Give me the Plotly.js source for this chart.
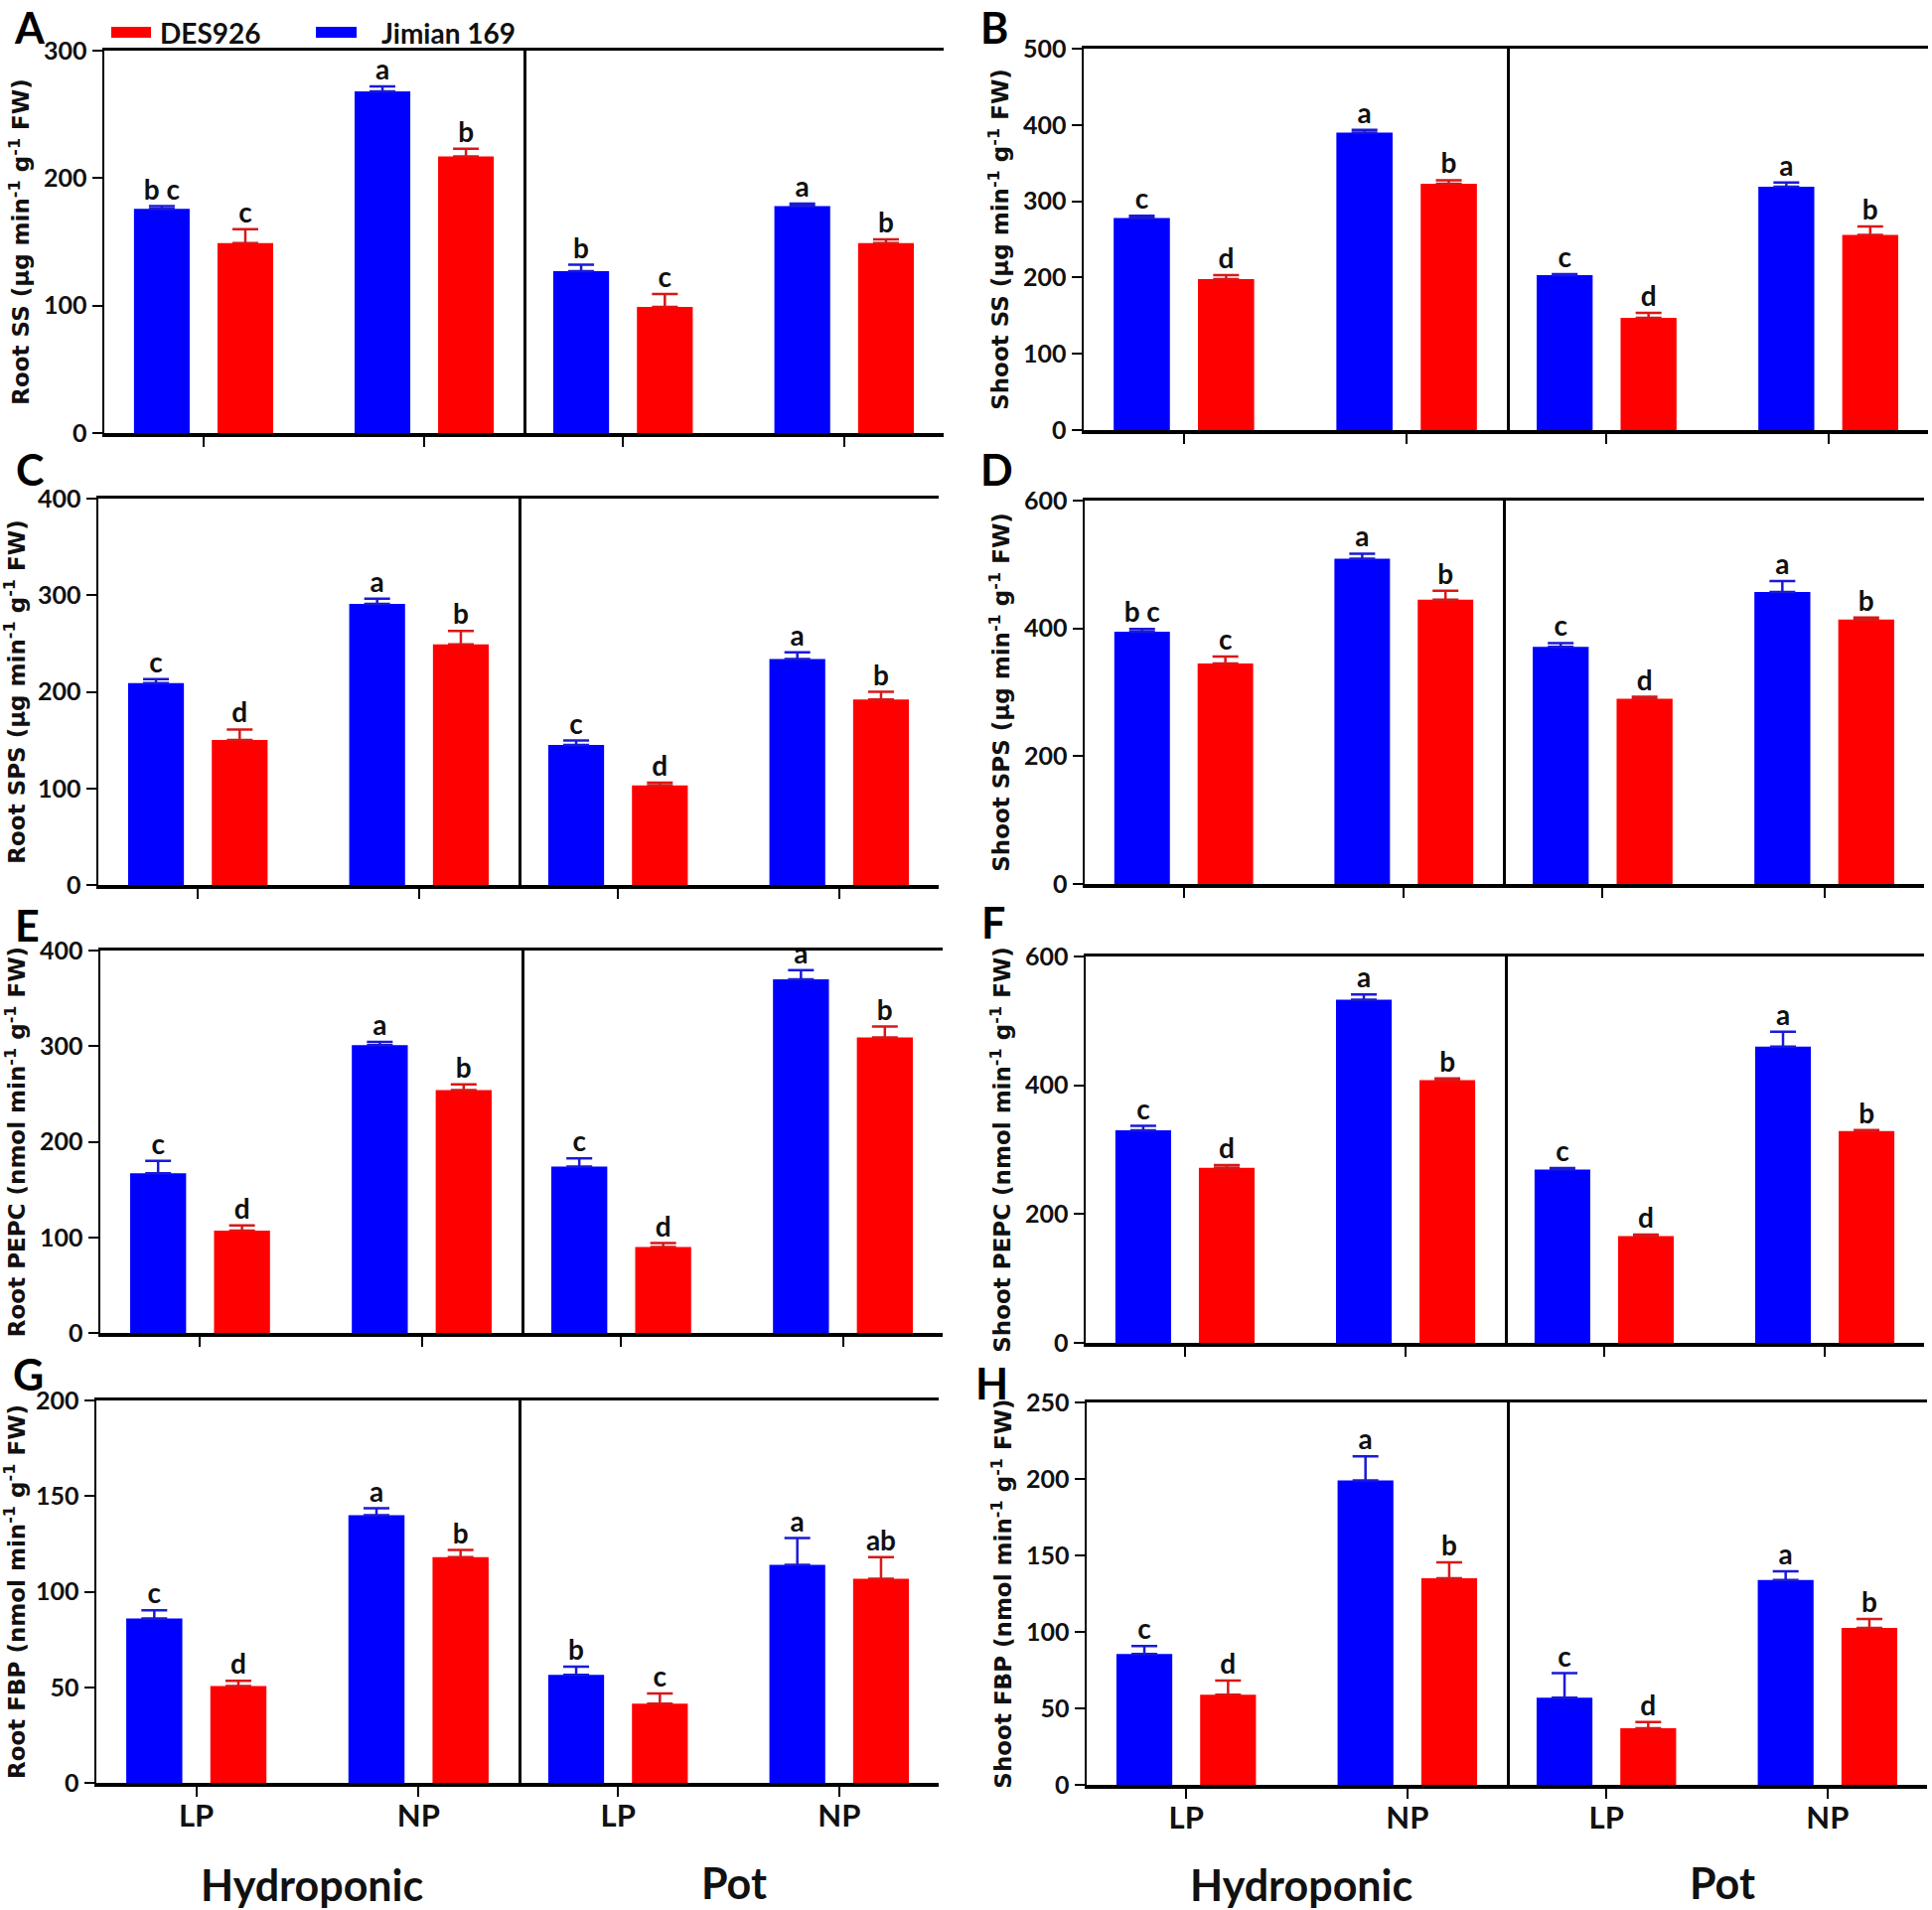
<!DOCTYPE html>
<html>
<head>
<meta charset="utf-8">
<script src="https://cdn.plot.ly/plotly-3.0.1.min.js"></script>
<style>
html, body { margin: 0; padding: 0; background: #ffffff; }
#chart { width: 1945px; height: 1923px; }
</style>
</head>
<body>
<div id="chart"></div>
<script>
// ---------------- DATA ----------------
// x categories (P level) and growth systems
const levels = ['LP', 'NP'];
const systems = ['Hydroponic', 'Pot'];
// cultivars: [first bar in each group, second bar]
const cultivars = ['Jimian 169', 'DES926'];

// every array below is ordered: Hydroponic LP, Hydroponic NP, Pot LP, Pot NP
// A  Root SS
const rootSS_jimian      = [176, 268, 127, 178];
const rootSS_jimian_err  = [2, 4, 5, 2];
const rootSS_jimian_sig  = ['b c', 'a', 'b', 'a'];
const rootSS_des         = [149, 217, 99, 149];
const rootSS_des_err     = [11, 6, 10, 3];
const rootSS_des_sig     = ['c', 'b', 'c', 'b'];
// B  Shoot SS
const shootSS_jimian     = [278, 390, 203, 319];
const shootSS_jimian_err = [3, 3.5, 1.5, 5.5];
const shootSS_jimian_sig = ['c', 'a', 'c', 'a'];
const shootSS_des        = [198, 323, 147, 256];
const shootSS_des_err    = [5, 4.5, 6.5, 11];
const shootSS_des_sig    = ['d', 'b', 'd', 'b'];
// C  Root SPS
const rootSPS_jimian     = [209, 291, 145, 234];
const rootSPS_jimian_err = [4, 5.5, 4.5, 7];
const rootSPS_jimian_sig = ['c', 'a', 'c', 'a'];
const rootSPS_des        = [150, 249, 103, 192];
const rootSPS_des_err    = [11, 14, 3, 8];
const rootSPS_des_sig    = ['d', 'b', 'd', 'b'];
// D  Shoot SPS
const shootSPS_jimian     = [395, 509, 371, 457];
const shootSPS_jimian_err = [4, 8, 6, 17];
const shootSPS_jimian_sig = ['b c', 'a', 'c', 'a'];
const shootSPS_des        = [345, 445, 290, 414];
const shootSPS_des_err    = [11, 14, 3, 3];
const shootSPS_des_sig    = ['c', 'b', 'd', 'b'];
// E  Root PEPC
const rootPEPC_jimian     = [167, 301, 174, 370];
const rootPEPC_jimian_err = [13, 3.5, 8.5, 9.5];
const rootPEPC_jimian_sig = ['c', 'a', 'c', 'a'];
const rootPEPC_des        = [107, 254, 90, 309];
const rootPEPC_des_err    = [5.5, 6, 4, 11.5];
const rootPEPC_des_sig    = ['d', 'b', 'd', 'b'];
// F  Shoot PEPC
const shootPEPC_jimian     = [330, 533, 269, 460];
const shootPEPC_jimian_err = [7, 8, 2.5, 23];
const shootPEPC_jimian_sig = ['c', 'a', 'c', 'a'];
const shootPEPC_des        = [272, 408, 166, 329];
const shootPEPC_des_err    = [4, 2.5, 2, 1.5];
const shootPEPC_des_sig    = ['d', 'b', 'd', 'b'];
// G  Root FBP
const rootFBP_jimian     = [86, 140, 56.5, 114];
const rootFBP_jimian_err = [4.3, 3.6, 4.3, 14];
const rootFBP_jimian_sig = ['c', 'a', 'b', 'a'];
const rootFBP_des        = [50.7, 118, 41.4, 106.7];
const rootFBP_des_err    = [2.7, 3.8, 5.4, 11.3];
const rootFBP_des_sig    = ['d', 'b', 'c', 'ab'];
// H  Shoot FBP
const shootFBP_jimian     = [85.5, 199, 57, 134];
const shootFBP_jimian_err = [5.2, 15.7, 16, 5.6];
const shootFBP_jimian_sig = ['c', 'a', 'c', 'a'];
const shootFBP_des        = [59, 135, 37, 102.6];
const shootFBP_des_err    = [9.2, 10.4, 4.1, 5.9];
const shootFBP_des_sig    = ['d', 'b', 'd', 'b'];

// axis titles and y-axis scales
const UG = ' (µg min<sup>-1</sup> g<sup>-1</sup> FW)';
const NM = ' (nmol min<sup>-1</sup> g<sup>-1</sup> FW)';
const panelLetters = ['A', 'B', 'C', 'D', 'E', 'F', 'G', 'H'];
const yTitles = ['Root SS' + UG, 'Shoot SS' + UG, 'Root SPS' + UG, 'Shoot SPS' + UG,
                 'Root PEPC' + NM, 'Shoot PEPC' + NM, 'Root FBP' + NM, 'Shoot FBP' + NM];
const yMax  = [300, 500, 400, 600, 400, 600, 200, 250];
const yStep = [100, 100, 100, 200, 100, 200, 50, 50];

const panelData = [
  [rootSS_jimian, rootSS_jimian_err, rootSS_jimian_sig, rootSS_des, rootSS_des_err, rootSS_des_sig],
  [shootSS_jimian, shootSS_jimian_err, shootSS_jimian_sig, shootSS_des, shootSS_des_err, shootSS_des_sig],
  [rootSPS_jimian, rootSPS_jimian_err, rootSPS_jimian_sig, rootSPS_des, rootSPS_des_err, rootSPS_des_sig],
  [shootSPS_jimian, shootSPS_jimian_err, shootSPS_jimian_sig, shootSPS_des, shootSPS_des_err, shootSPS_des_sig],
  [rootPEPC_jimian, rootPEPC_jimian_err, rootPEPC_jimian_sig, rootPEPC_des, rootPEPC_des_err, rootPEPC_des_sig],
  [shootPEPC_jimian, shootPEPC_jimian_err, shootPEPC_jimian_sig, shootPEPC_des, shootPEPC_des_err, shootPEPC_des_sig],
  [rootFBP_jimian, rootFBP_jimian_err, rootFBP_jimian_sig, rootFBP_des, rootFBP_des_err, rootFBP_des_sig],
  [shootFBP_jimian, shootFBP_jimian_err, shootFBP_jimian_sig, shootFBP_des, shootFBP_des_err, shootFBP_des_sig]
];

// ---------------- STYLE / LAYOUT ----------------
const W = 1945, H = 1923;
const fx = p => p / W;
const fy = p => 1 - p / H;
const colors = ['#0000ff', '#ff0000'];
const errColors = ['#1a1ad6', '#d81818'];
const TXT = '#111111';
const NARROW = 'Lato, "Open Sans", sans-serif';
const WIDE = '"DejaVu Sans", Verdana, sans-serif';

// plot boxes in pixels: [left, divider, right, top, bottom]
const boxes = [
  [105, 527, 950, 51, 436],
  [1091, 1517, 1941, 49, 433],
  [99, 522, 945, 502, 891],
  [1092, 1513, 1937, 504, 890],
  [101, 525, 949, 957, 1342],
  [1093, 1515, 1937, 963, 1352],
  [97, 522, 945, 1410, 1795],
  [1094, 1517, 1940, 1412, 1797]
];
// panel letter centres in pixels (null y = pinned to the top edge)
const letterPos = [[30, null], [1001, null], [30, 472], [1003, 473], [27, 931], [1000, 929], [28, 1383], [998, 1392]];

const traces = [];
const layout = {
  width: W, height: H,
  margin: {l: 0, r: 0, t: 0, b: 0},
  paper_bgcolor: '#ffffff', plot_bgcolor: 'rgba(0,0,0,0)',
  barmode: 'group', bargap: 0.243, bargroupgap: 0.333,
  scattermode: 'group', scattergap: 0.243,
  showlegend: false,
  font: {family: NARROW, color: TXT},
  annotations: [], shapes: []
};

const axName = n => (n === 1 ? '' : String(n));

for (let i = 0; i < 8; i++) {
  const b = boxes[i];
  const yId = axName(i + 1);
  const bottomRow = i >= 6;
  for (let s = 0; s < 2; s++) {
    const xn = 2 * i + s + 1;
    const xId = axName(xn);
    layout['xaxis' + xId] = {
      domain: s === 0 ? [fx(b[0]), fx(b[1])] : [fx(b[1]), fx(b[2])],
      anchor: 'y' + yId,
      type: 'category', categoryorder: 'array', categoryarray: levels,
      range: [-0.45, 1.45],
      showline: true, linewidth: 3.5, linecolor: '#000', mirror: true,
      ticks: 'outside', ticklen: 10, tickwidth: 2, tickcolor: '#000',
      showticklabels: bottomRow, ticklabelstandoff: -7,
      tickfont: {family: NARROW, size: 31, weight: 700, color: TXT},
      showgrid: false, zeroline: false, fixedrange: true
    };
    for (let c = 0; c < 2; c++) {
      const vals = panelData[i][3 * c].slice(2 * s, 2 * s + 2);
      const errs = panelData[i][3 * c + 1].slice(2 * s, 2 * s + 2);
      const sig = panelData[i][3 * c + 2].slice(2 * s, 2 * s + 2);
      traces.push({
        type: 'bar', name: cultivars[c], x: levels, y: vals,
        xaxis: 'x' + xId, yaxis: 'y' + yId,
        marker: {color: colors[c], line: {width: 0}},
        error_y: {type: 'data', symmetric: false, array: errs, arrayminus: errs.map(() => 0),
                  color: errColors[c], thickness: 2.5, width: 13},
        showlegend: false, hoverinfo: 'x+y+name'
      });
      traces.push({
        type: 'scatter', mode: 'text', name: cultivars[c], x: levels,
        y: vals.map((v, k) => v + errs[k]), text: sig,
        textposition: 'top center', cliponaxis: false,
        textfont: {family: NARROW, size: 28, weight: 700, color: TXT},
        xaxis: 'x' + xId, yaxis: 'y' + yId, showlegend: false, hoverinfo: 'skip'
      });
    }
    if (bottomRow) {
      layout.annotations.push(s === 0 ? {
        xref: 'paper', yref: 'paper',
        x: fx((b[0] + b[1]) / 2 + 5), y: fy(1897),
        xanchor: 'center', yanchor: 'middle', showarrow: false,
        text: systems[s], font: {family: NARROW, size: 43, weight: 700, color: TXT}
      } : {
        xref: 'paper', yref: 'paper',
        x: fx((b[1] + b[2]) / 2 + 5), y: 0,
        xanchor: 'center', yanchor: 'bottom', showarrow: false,
        text: systems[s], font: {family: NARROW, size: 43, weight: 700, color: TXT}
      });
    }
  }
  layout['yaxis' + yId] = {
    domain: [fy(b[4]), fy(b[3])],
    anchor: 'x' + axName(2 * i + 1),
    range: [0, yMax[i]], tick0: 0, dtick: yStep[i],
    showline: true, linewidth: 2.5, linecolor: '#000', mirror: true,
    ticks: 'outside', ticklen: 10, tickwidth: 2, tickcolor: '#000',
    tickfont: {family: NARROW, size: 25, weight: 700, color: TXT},
    title: {text: yTitles[i], standoff: 8, font: {family: WIDE, size: 23, weight: 700, color: TXT}},
    showgrid: false, zeroline: false, fixedrange: true
  };
  const lp = letterPos[i];
  layout.annotations.push({
    xref: 'paper', yref: 'paper', x: fx(lp[0]),
    y: lp[1] === null ? 1 : fy(lp[1]),
    xanchor: 'center', yanchor: lp[1] === null ? 'top' : 'middle', showarrow: false,
    text: panelLetters[i], font: {family: NARROW, size: 43, weight: 700, color: '#000'}
  });
}

// legend (drawn as swatches + labels): DES926 first, then Jimian 169
const legendItems = [
  {c: 1, sw: [112, 152], tx: 159},
  {c: 0, sw: [318, 359], tx: 382}
];
legendItems.forEach(it => {
  layout.shapes.push({type: 'rect', xref: 'paper', yref: 'paper',
    x0: fx(it.sw[0]), x1: fx(it.sw[1]), y0: fy(38), y1: fy(27),
    fillcolor: colors[it.c], line: {width: 0}});
  layout.annotations.push({xref: 'paper', yref: 'paper', x: fx(it.tx), y: fy(33),
    xanchor: 'left', yanchor: 'middle', showarrow: false, text: cultivars[it.c],
    font: {family: NARROW, size: 28, weight: 700, color: TXT}});
});

Plotly.newPlot('chart', traces, layout, {staticPlot: true, displayModeBar: false});
</script>
</body>
</html>
